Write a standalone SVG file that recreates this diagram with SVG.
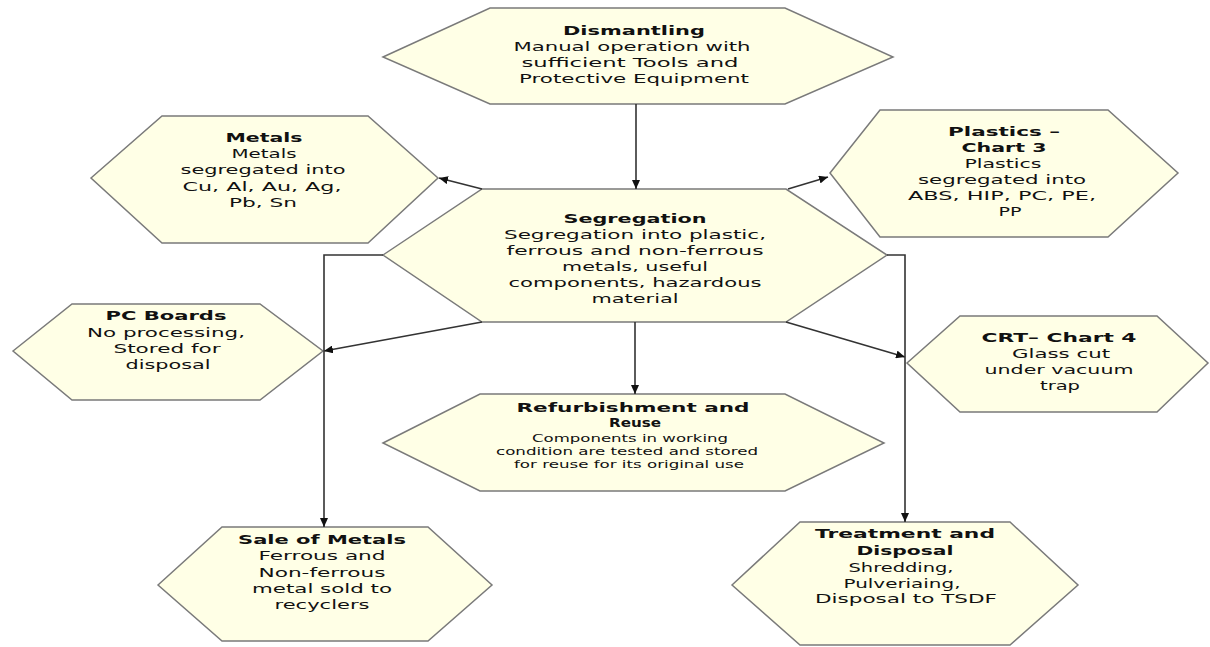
<svg xmlns="http://www.w3.org/2000/svg" width="1210" height="647" viewBox="0 0 1210 647">
<style>
.hex{fill:#FFFFE6;stroke:#7A7A7A;stroke-width:1.5}
text{font-family:"DejaVu Sans","Liberation Sans",sans-serif;font-size:12.5px;fill:#111;text-anchor:middle}
.t{font-weight:bold}
.s{font-size:10.5px}
.c{fill:none;stroke:#333;stroke-width:1.6}
</style>
<defs>
<marker id="ah" markerUnits="userSpaceOnUse" markerWidth="10" markerHeight="8" refX="9" refY="4" orient="auto">
<path d="M0,0 L9,4 L0,8 z" fill="#111"/>
</marker>
</defs>
<rect width="1210" height="647" fill="#fff"/>

<g id="dismantling">
<polygon class="hex" points="383,57 490,8 785,8 893,57 785,104 490,104"/>
<text class="t" x="634" y="35" textLength="142" lengthAdjust="spacingAndGlyphs">Dismantling</text>
<text x="632" y="51" textLength="237" lengthAdjust="spacingAndGlyphs">Manual operation with</text>
<text x="630" y="67" textLength="217" lengthAdjust="spacingAndGlyphs">sufficient Tools and</text>
<text x="634" y="83" textLength="230" lengthAdjust="spacingAndGlyphs">Protective Equipment</text>
</g>

<g id="metals">
<polygon class="hex" points="91,178 162,116 368,116 438,178 368,243 162,243"/>
<text class="t" x="264" y="142" textLength="77" lengthAdjust="spacingAndGlyphs">Metals</text>
<text x="264" y="158" textLength="65" lengthAdjust="spacingAndGlyphs">Metals</text>
<text x="263" y="174" textLength="165" lengthAdjust="spacingAndGlyphs">segregated into</text>
<text x="262" y="191" textLength="159" lengthAdjust="spacingAndGlyphs">Cu, Al, Au, Ag,</text>
<text x="263" y="207" textLength="68" lengthAdjust="spacingAndGlyphs">Pb, Sn</text>
</g>

<g id="plastics">
<polygon class="hex" points="830,173 880,110 1108,110 1178,173 1108,237 880,237"/>
<text class="t" x="1004" y="136" textLength="112" lengthAdjust="spacingAndGlyphs">Plastics –</text>
<text class="t" x="1004" y="152" textLength="85" lengthAdjust="spacingAndGlyphs">Chart 3</text>
<text x="1003" y="168" textLength="77" lengthAdjust="spacingAndGlyphs">Plastics</text>
<text x="1002" y="184" textLength="168" lengthAdjust="spacingAndGlyphs">segregated into</text>
<text x="1002" y="200" textLength="188" lengthAdjust="spacingAndGlyphs">ABS, HIP, PC, PE,</text>
<text x="1010" y="216" textLength="23" lengthAdjust="spacingAndGlyphs">PP</text>
</g>

<g id="segregation">
<polygon class="hex" points="383,255 482,189 786,189 887,255 786,322 482,322"/>
<text class="t" x="635" y="223" textLength="143" lengthAdjust="spacingAndGlyphs">Segregation</text>
<text x="635" y="239" textLength="262" lengthAdjust="spacingAndGlyphs">Segregation into plastic,</text>
<text x="635" y="255" textLength="257" lengthAdjust="spacingAndGlyphs">ferrous and non-ferrous</text>
<text x="635" y="271" textLength="146" lengthAdjust="spacingAndGlyphs">metals, useful</text>
<text x="635" y="287" textLength="253" lengthAdjust="spacingAndGlyphs">components, hazardous</text>
<text x="635" y="303" textLength="87" lengthAdjust="spacingAndGlyphs">material</text>
</g>

<g id="pcboards">
<polygon class="hex" points="13,351 72,304 260,304 323,351 260,400 72,400"/>
<text class="t" x="166" y="320" textLength="121" lengthAdjust="spacingAndGlyphs">PC Boards</text>
<text x="166" y="337" textLength="158" lengthAdjust="spacingAndGlyphs">No processing,</text>
<text x="167" y="353" textLength="107" lengthAdjust="spacingAndGlyphs">Stored for</text>
<text x="168" y="369" textLength="85" lengthAdjust="spacingAndGlyphs">disposal</text>
</g>

<g id="crt">
<polygon class="hex" points="907,363 960,316 1157,316 1208,363 1157,412 960,412"/>
<text class="t" x="1059" y="342" textLength="155" lengthAdjust="spacingAndGlyphs">CRT– Chart 4</text>
<text x="1061" y="358" textLength="98" lengthAdjust="spacingAndGlyphs">Glass cut</text>
<text x="1059" y="374" textLength="149" lengthAdjust="spacingAndGlyphs">under vacuum</text>
<text x="1060" y="390" textLength="40" lengthAdjust="spacingAndGlyphs">trap</text>
</g>

<g id="refurbishment">
<polygon class="hex" points="383,443 480,394 785,394 884,443 785,491 480,491"/>
<text class="t" x="633" y="412" textLength="233" lengthAdjust="spacingAndGlyphs">Refurbishment and</text>
<text class="t" x="635" y="427" textLength="52" lengthAdjust="spacingAndGlyphs">Reuse</text>
<text class="s" x="630" y="442" textLength="196" lengthAdjust="spacingAndGlyphs">Components in working</text>
<text class="s" x="627" y="455" textLength="262" lengthAdjust="spacingAndGlyphs">condition are tested and stored</text>
<text class="s" x="629" y="468" textLength="230" lengthAdjust="spacingAndGlyphs">for reuse for its original use</text>
</g>

<g id="sale">
<polygon class="hex" points="158,585 222,527 428,527 492,585 428,641 222,641"/>
<text class="t" x="322" y="544" textLength="168" lengthAdjust="spacingAndGlyphs">Sale of Metals</text>
<text x="322" y="560" textLength="127" lengthAdjust="spacingAndGlyphs">Ferrous and</text>
<text x="322" y="577" textLength="127" lengthAdjust="spacingAndGlyphs">Non-ferrous</text>
<text x="322" y="593" textLength="140" lengthAdjust="spacingAndGlyphs">metal sold to</text>
<text x="322" y="609" textLength="95" lengthAdjust="spacingAndGlyphs">recyclers</text>
</g>

<g id="treatment">
<polygon class="hex" points="732,585 800,522 1010,522 1078,585 1010,645 800,645"/>
<text class="t" x="905" y="538" textLength="180" lengthAdjust="spacingAndGlyphs">Treatment and</text>
<text class="t" x="905" y="555" textLength="97" lengthAdjust="spacingAndGlyphs">Disposal</text>
<text x="901" y="572" textLength="105" lengthAdjust="spacingAndGlyphs">Shredding,</text>
<text x="902" y="588" textLength="117" lengthAdjust="spacingAndGlyphs">Pulveriaing,</text>
<text x="906" y="603" textLength="182" lengthAdjust="spacingAndGlyphs">Disposal to TSDF</text>
</g>

<g id="connectors">
<path class="c" d="M636,104 L636,189" marker-end="url(#ah)"/>
<path class="c" d="M482,189 L439,178" marker-end="url(#ah)"/>
<path class="c" d="M788,189 L828,177" marker-end="url(#ah)"/>
<path class="c" d="M482,322 L324,351" marker-end="url(#ah)"/>
<path class="c" d="M786,322 L905,357" marker-end="url(#ah)"/>
<path class="c" d="M635,322 L635,394" marker-end="url(#ah)"/>
<path class="c" d="M383,255 L324,255 L324,527" marker-end="url(#ah)"/>
<path class="c" d="M887,255 L905,255 L905,522" marker-end="url(#ah)"/>
</g>
</svg>
